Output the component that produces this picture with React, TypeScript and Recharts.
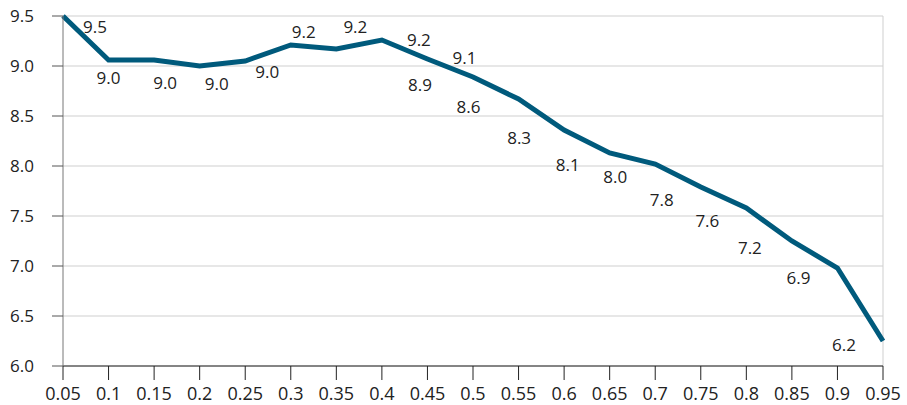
import { CartesianGrid, LabelList, Line, LineChart, ReferenceLine, XAxis, YAxis } from "recharts"

const categories = ["0.05", "0.1", "0.15", "0.2", "0.25", "0.3", "0.35", "0.4", "0.45", "0.5", "0.55", "0.6", "0.65", "0.7", "0.75", "0.8", "0.85", "0.9", "0.95"]
const values = [9.5, 9.06, 9.06, 9.0, 9.05, 9.21, 9.17, 9.26, 9.07, 8.89, 8.67, 8.36, 8.13, 8.02, 7.79, 7.58, 7.25, 6.98, 6.25]
const valueLabels = ["9.5", "9.0", "9.0", "9.0", "9.0", "9.2", "9.2", "9.2", "9.1", "8.9", "8.6", "8.3", "8.1", "8.0", "7.8", "7.6", "7.2", "6.9", "6.2"]
const yTicks = [6.0, 6.5, 7.0, 7.5, 8.0, 8.5, 9.0, 9.5]

// where each value label sits relative to its point (px)
const labelShift = [
  [32, 10], [0, 17], [11, 22], [17, 17], [22, 10], [13, -14], [19, -23], [37, -1], [37, -2],
  [-53, 7], [-50, 7], [-45, 7], [-42, 11], [-40, 12], [-39, 12], [-39, 12], [-42, 6], [-39, 9], [-39, 3],
]

const data = categories.map((c, i) => ({ q: c, v: values[i], label: valueLabels[i] }))

const font = "'Open Sans', sans-serif"

function ValueLabel(props: any) {
  const { x, y, index, value } = props
  const [dx, dy] = labelShift[index] ?? [0, 0]
  return (
    <text
      x={x + dx}
      y={y + dy}
      textAnchor="middle"
      dominantBaseline="central"
      fontFamily={font}
      fontSize={17}
      fill="#222"
    >
      {value}
    </text>
  )
}

export default function App() {
  return (
    <div style={{ position: "absolute", left: 0, top: 0, background: "#fff" }}>
      <LineChart width={907} height={405} data={data} margin={{ top: 16, right: 24, bottom: 0, left: 0 }}>
        <CartesianGrid vertical={false} stroke="#cfcfcf" />
        <ReferenceLine x="0.95" stroke="#cfcfcf" />
        <XAxis
          dataKey="q"
          height={39}
          stroke="#222"
          tickSize={14}
          tickMargin={7}
          tick={{ fill: "#222", fontSize: 18, fontFamily: font }}
          interval={0}
        />
        <YAxis
          width={63}
          domain={[6, 9.5]}
          ticks={yTicks}
          tickFormatter={(v: number) => v.toFixed(1)}
          axisLine={{ stroke: "#777" }}
          tickLine={{ stroke: "#555" }}
          tickSize={11}
          tickMargin={18}
          tick={{ fill: "#222", fontSize: 17, fontFamily: font }}
        />
        <Line
          dataKey="v"
          stroke="#005a7c"
          strokeWidth={5}
          dot={false}
          activeDot={false}
          isAnimationActive={false}
        >
          <LabelList dataKey="label" content={<ValueLabel />} />
        </Line>
      </LineChart>
    </div>
  )
}
